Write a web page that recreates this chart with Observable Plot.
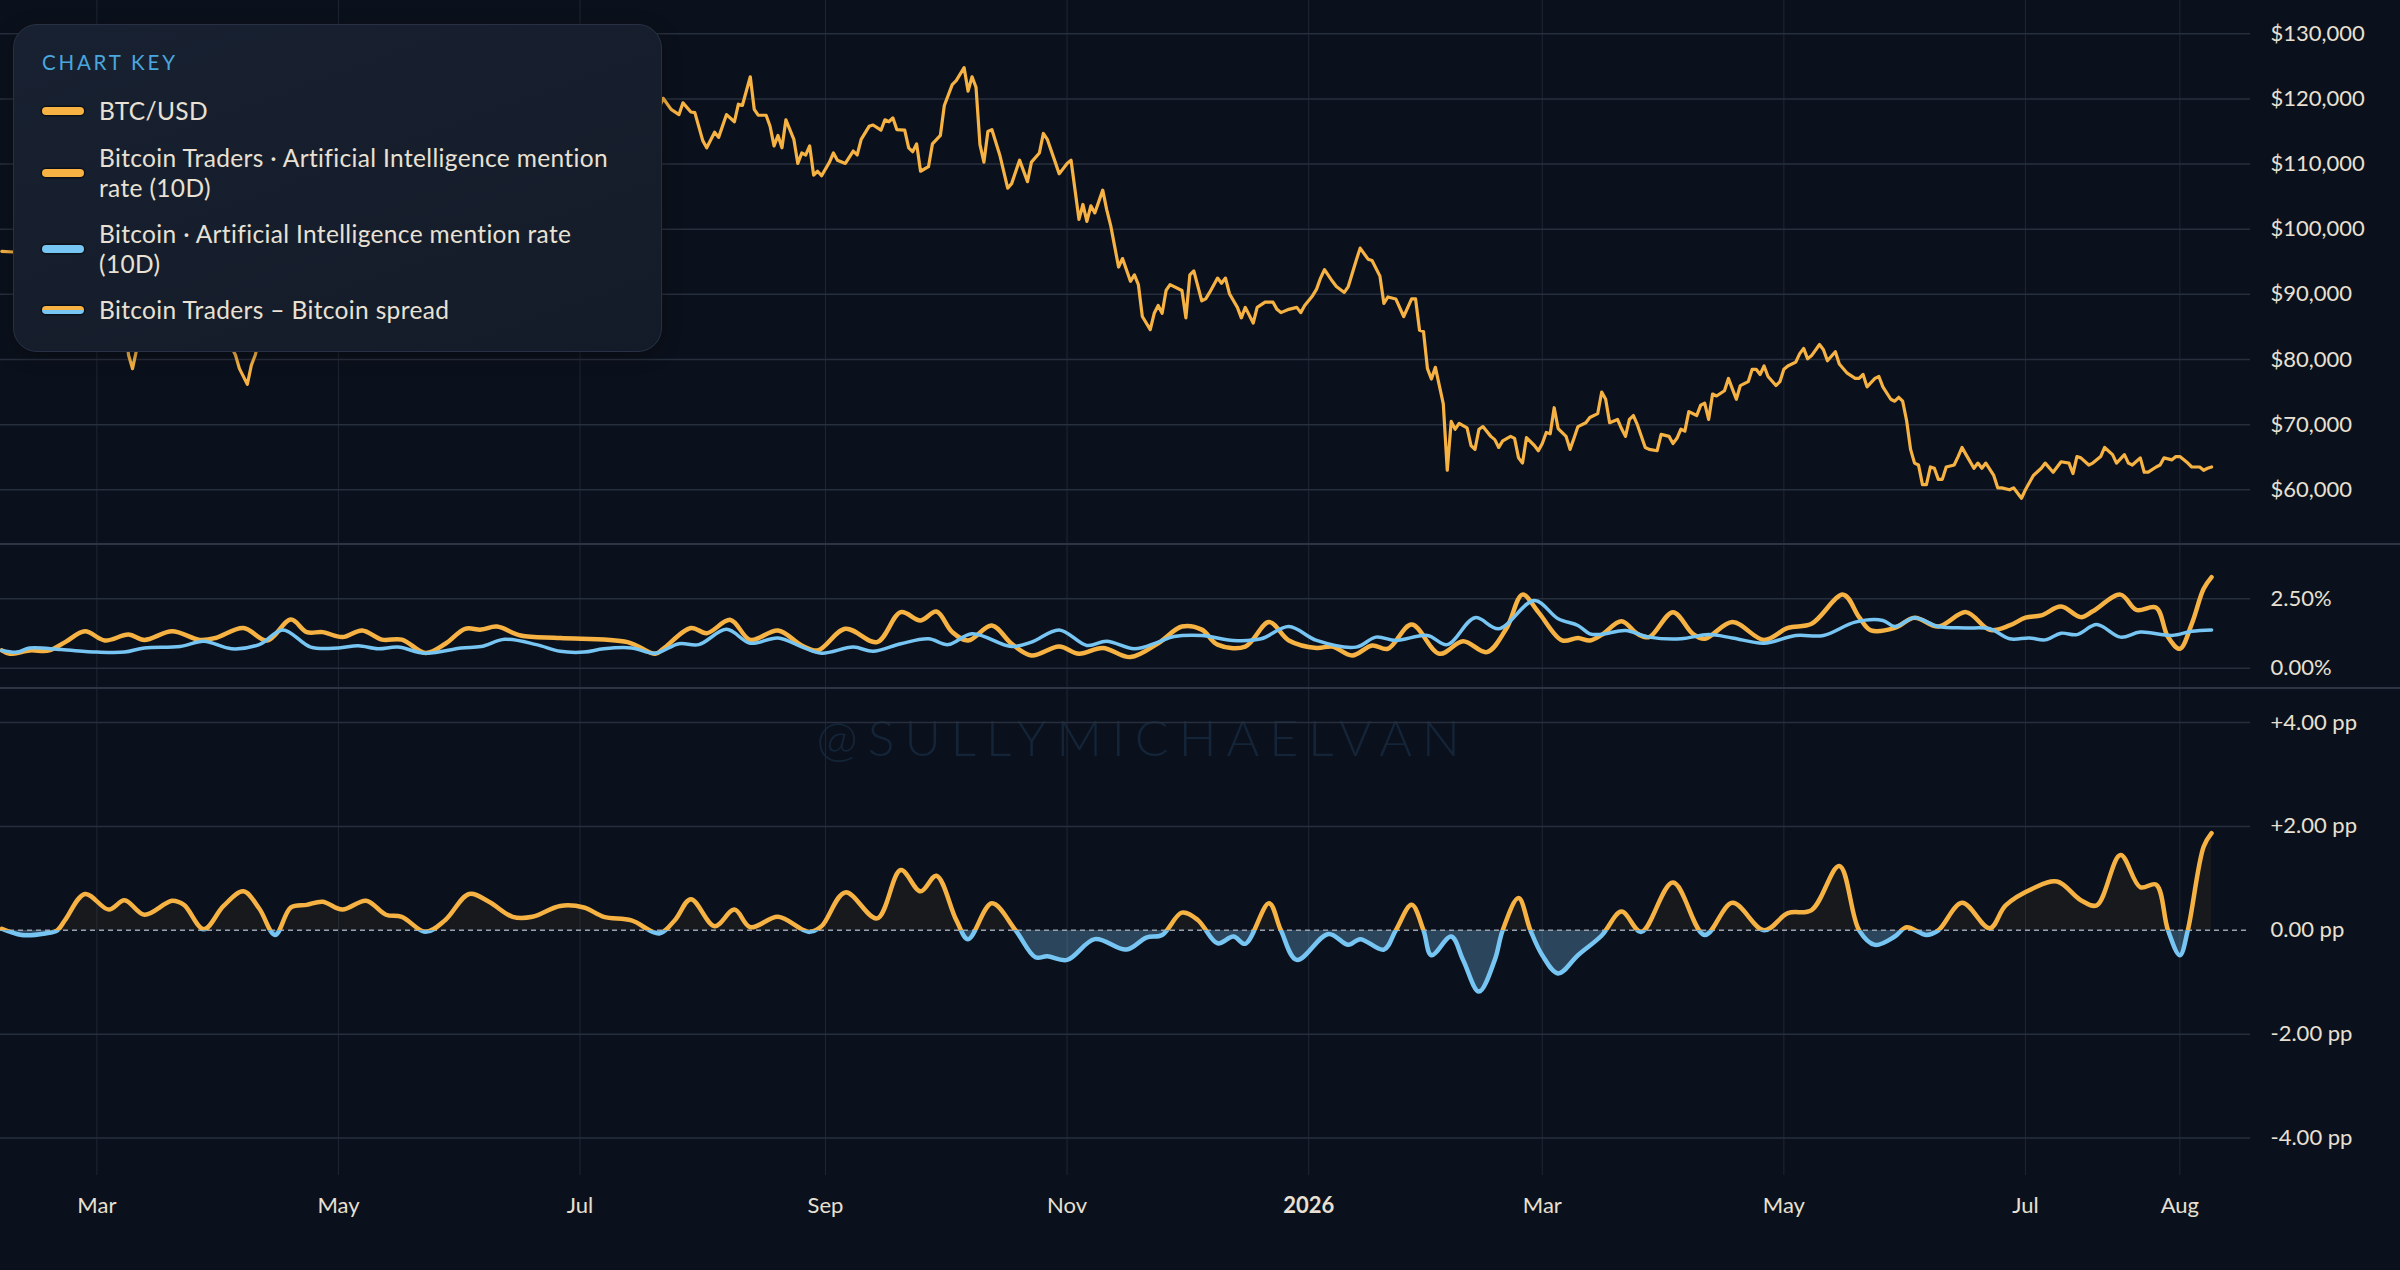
<!DOCTYPE html>
<html><head><meta charset="utf-8">
<script src="https://cdn.jsdelivr.net/npm/d3@7"></script>
<script src="https://cdn.jsdelivr.net/npm/@observablehq/plot@0.6"></script>
<style>
html,body{margin:0;padding:0;background:#0b111c;}
#root{position:relative;width:2400px;height:1270px;overflow:hidden;background:#0b111c;font-family:Lato,"Open Sans",sans-serif;}
.panel{position:absolute;left:0;z-index:2;}
.panel svg{display:block;}
.sep{position:absolute;left:0;width:2400px;height:2px;background:#2d3544;z-index:3;}
#watermark{position:absolute;left:1143px;top:737px;transform:translate(-50%,-50%);font-size:50px;font-weight:300;letter-spacing:10px;color:#142539;white-space:nowrap;z-index:1;}
#legend{position:absolute;left:13px;top:24px;width:647px;height:326px;border:1px solid #273143;border-radius:24px;background:linear-gradient(160deg,#182131 0%,#141b28 100%);z-index:5;box-shadow:0 4px 18px rgba(0,0,0,0.35);}
#legend .title{position:absolute;left:28px;top:25px;font-size:20.5px;line-height:24px;letter-spacing:2.8px;color:#4aa6dc;}
#legend .item{position:absolute;left:0;width:100%;}
#legend .sw{position:absolute;left:28px;width:42px;height:8px;border-radius:4px;box-shadow:0 0 0 1.5px rgba(0,0,0,0.45);}
#legend .txt{position:absolute;left:85px;font-size:24.5px;line-height:29.5px;letter-spacing:0.35px;color:#e8e1d4;white-space:nowrap;}
</style></head>
<body><div id="root">
<div id="watermark">@SULLYMICHAELVAN</div>
<div class="panel" id="p1" style="top:0px"></div>
<div class="panel" id="p2" style="top:544px"></div>
<div class="panel" id="p3" style="top:688px"></div>
<div class="sep" style="top:543px"></div>
<div class="sep" style="top:687px"></div>
<div id="legend"></div>
</div>
<script>
// ---------- DATA ----------
const tickDates = ["2025-03-01","2025-05-01","2025-07-01","2025-09-01","2025-11-01","2026-01-01","2026-03-01","2026-05-01","2026-07-01","2026-08-09"];
const tickLabels = ["Mar","May","Jul","Sep","Nov","2026","Mar","May","Jul","Aug"];
const btcTicks = [60000,70000,80000,90000,100000,110000,120000,130000];
const rateTicks = [0,2.5];
const spreadTicks = [-4,-2,0,2,4];

const btcUsd = [
["2025-02-05",96600],["2025-02-08",96500],["2025-02-11",95800],["2025-02-14",97500],["2025-02-17",95800],["2025-02-20",98300],["2025-02-23",96300],["2025-02-25",88700],["2025-02-27",84700],
["2025-03-01",86000],["2025-03-02",94200],["2025-03-04",87200],["2025-03-06",89900],["2025-03-08",86100],["2025-03-09",80700],["2025-03-10",78600],["2025-03-11",81400],["2025-03-13",81500],["2025-03-15",84100],["2025-03-18",82700],["2025-03-20",84200],["2025-03-23",86100],["2025-03-25",87500],["2025-03-28",84400],["2025-03-31",82500],
["2025-04-02",82500],["2025-04-03",83100],["2025-04-05",80700],["2025-04-06",78600],["2025-04-08",76200],["2025-04-09",79100],["2025-04-10",80700],["2025-04-12",85300],["2025-04-16",84000],["2025-04-20",85100],["2025-04-22",93400],["2025-04-25",94700],["2025-04-28",95000],
["2025-05-01",96500],["2025-05-04",94300],["2025-05-08",103200],["2025-05-11",104600],["2025-05-14",103500],["2025-05-17",103200],["2025-05-20",106800],["2025-05-22",111700],["2025-05-25",107800],["2025-05-28",107800],["2025-05-31",104600],
["2025-06-03",105400],["2025-06-05",101500],["2025-06-09",110300],["2025-06-12",105700],["2025-06-15",105500],["2025-06-18",104900],["2025-06-22",100900],["2025-06-25",107300],["2025-06-28",107300],
["2025-07-01",105700],["2025-07-03",109600],["2025-07-06",109200],["2025-07-09",111300],["2025-07-11",117500],["2025-07-14",119900],["2025-07-16",119000],["2025-07-18",117900],["2025-07-20",117300],["2025-07-22",120100],["2025-07-24",118400],["2025-07-26",117600],["2025-07-27",119400],["2025-07-29",118000],["2025-07-30",117900],
["2025-08-01",113600],["2025-08-02",112500],["2025-08-04",114900],["2025-08-05",114100],["2025-08-07",117600],["2025-08-09",116500],["2025-08-10",119200],["2025-08-11",119000],["2025-08-13",123400],["2025-08-14",118400],["2025-08-15",117500],["2025-08-17",117500],["2025-08-18",115800],["2025-08-19",112800],["2025-08-20",114400],["2025-08-21",112500],["2025-08-22",116800],["2025-08-24",113800],["2025-08-25",110100],["2025-08-26",111700],["2025-08-27",111400],["2025-08-28",112800],["2025-08-29",108300],["2025-08-30",108900],["2025-08-31",108200],
["2025-09-02",110300],["2025-09-03",111700],["2025-09-04",110600],["2025-09-06",110100],["2025-09-08",112000],["2025-09-09",111400],["2025-09-10",113800],["2025-09-12",115800],["2025-09-13",116000],["2025-09-15",115200],["2025-09-16",116800],["2025-09-17",116500],["2025-09-18",117100],["2025-09-19",115300],["2025-09-21",115200],["2025-09-22",112500],["2025-09-23",111900],["2025-09-24",113100],["2025-09-25",108900],["2025-09-27",109600],["2025-09-28",113100],["2025-09-30",114400],
["2025-10-01",119000],["2025-10-03",122200],["2025-10-04",122800],["2025-10-06",124800],["2025-10-07",121200],["2025-10-08",123400],["2025-10-09",121800],["2025-10-10",113000],["2025-10-11",110300],["2025-10-12",115000],["2025-10-13",115300],["2025-10-15",111400],["2025-10-17",106300],["2025-10-18",107000],["2025-10-20",110600],["2025-10-22",107300],["2025-10-23",110300],["2025-10-25",111700],["2025-10-26",114700],["2025-10-27",113800],["2025-10-29",110300],["2025-10-30",108500],
["2025-11-01",110100],["2025-11-02",110600],["2025-11-04",101500],["2025-11-05",103800],["2025-11-06",101200],["2025-11-07",103600],["2025-11-08",102500],["2025-11-10",106000],["2025-11-11",103000],["2025-11-12",100600],["2025-11-13",97400],["2025-11-14",94200],["2025-11-15",95500],["2025-11-17",92000],["2025-11-18",93000],["2025-11-19",91500],["2025-11-20",86600],["2025-11-22",84600],["2025-11-23",87100],["2025-11-24",88300],["2025-11-25",87100],["2025-11-26",90600],["2025-11-27",91500],["2025-11-30",90600],
["2025-12-01",86400],["2025-12-02",93000],["2025-12-03",93600],["2025-12-05",89000],["2025-12-06",89300],["2025-12-07",90300],["2025-12-09",92500],["2025-12-10",91700],["2025-12-11",92500],["2025-12-12",90100],["2025-12-14",88000],["2025-12-15",86400],["2025-12-16",88000],["2025-12-18",85600],["2025-12-19",88000],["2025-12-21",88800],["2025-12-23",88800],["2025-12-24",87700],["2025-12-25",87200],["2025-12-27",87700],["2025-12-29",88000],["2025-12-30",87200],["2025-12-31",88300],
["2026-01-02",89800],["2026-01-03",90800],["2026-01-04",92500],["2026-01-05",93800],["2026-01-07",92000],["2026-01-08",91200],["2026-01-10",90300],["2026-01-11",91200],["2026-01-13",95200],["2026-01-14",97100],["2026-01-16",95400],["2026-01-17",95200],["2026-01-19",92800],["2026-01-20",88600],["2026-01-21",89600],["2026-01-23",89300],["2026-01-25",86600],["2026-01-27",89300],["2026-01-28",89300],["2026-01-29",84500],["2026-01-30",84300],["2026-01-31",78600],
["2026-02-01",77000],["2026-02-02",78800],["2026-02-04",73200],["2026-02-05",63000],["2026-02-06",70500],["2026-02-07",69300],["2026-02-08",70200],["2026-02-10",69500],["2026-02-11",66800],["2026-02-12",66200],["2026-02-13",69300],["2026-02-14",69700],["2026-02-16",68200],["2026-02-17",67700],["2026-02-18",66500],["2026-02-19",67500],["2026-02-21",68200],["2026-02-22",67900],["2026-02-23",64900],["2026-02-24",64100],["2026-02-25",68000],["2026-02-27",66800],["2026-02-28",66000],
["2026-03-01",67100],["2026-03-02",68800],["2026-03-03",68600],["2026-03-04",72600],["2026-03-05",69400],["2026-03-07",68200],["2026-03-08",66200],["2026-03-09",67900],["2026-03-10",69700],["2026-03-12",70300],["2026-03-13",71100],["2026-03-15",71700],["2026-03-16",75000],["2026-03-17",73900],["2026-03-18",70300],["2026-03-20",70800],["2026-03-21",69400],["2026-03-22",68200],["2026-03-23",70800],["2026-03-24",71400],["2026-03-25",70000],["2026-03-27",66500],["2026-03-28",66200],["2026-03-30",66000],["2026-03-31",68500],
["2026-04-02",68200],["2026-04-03",67100],["2026-04-04",67900],["2026-04-05",69300],["2026-04-06",69000],["2026-04-07",72000],["2026-04-09",71400],["2026-04-10",73000],["2026-04-11",73300],["2026-04-12",70800],["2026-04-13",74700],["2026-04-14",74400],["2026-04-16",75200],["2026-04-17",77100],["2026-04-18",75500],["2026-04-19",73900],["2026-04-20",76000],["2026-04-22",76600],["2026-04-23",78500],["2026-04-24",78500],["2026-04-25",77700],["2026-04-26",79000],["2026-04-27",77400],["2026-04-29",76000],["2026-04-30",76600],
["2026-05-01",78500],["2026-05-02",79000],["2026-05-04",79600],["2026-05-05",80900],["2026-05-06",81700],["2026-05-07",80100],["2026-05-08",80600],["2026-05-10",82300],["2026-05-11",81500],["2026-05-12",79800],["2026-05-14",81200],["2026-05-15",79300],["2026-05-17",77900],["2026-05-19",77100],["2026-05-20",77100],["2026-05-21",77700],["2026-05-22",75800],["2026-05-24",77100],["2026-05-25",77400],["2026-05-26",75800],["2026-05-28",73900],["2026-05-29",73600],["2026-05-30",74200],["2026-05-31",73600],
["2026-06-01",70600],["2026-06-02",66200],["2026-06-03",64100],["2026-06-04",63800],["2026-06-05",60800],["2026-06-06",60800],["2026-06-07",63500],["2026-06-08",63300],["2026-06-09",61600],["2026-06-10",61600],["2026-06-11",63500],["2026-06-13",63800],["2026-06-14",65100],["2026-06-15",66500],["2026-06-16",65400],["2026-06-18",63300],["2026-06-19",64100],["2026-06-20",63300],["2026-06-21",64100],["2026-06-23",62200],["2026-06-24",60300],["2026-06-25",60300],["2026-06-27",60000],["2026-06-28",60300],["2026-06-29",59500],["2026-06-30",58700],
["2026-07-01",60000],["2026-07-03",62200],["2026-07-05",63300],["2026-07-06",64100],["2026-07-08",62700],["2026-07-09",63500],["2026-07-10",64300],["2026-07-12",64100],["2026-07-13",62500],["2026-07-14",65100],["2026-07-15",64900],["2026-07-17",63800],["2026-07-18",64100],["2026-07-20",65100],["2026-07-21",66500],["2026-07-23",65400],["2026-07-24",64100],["2026-07-26",65400],["2026-07-27",64100],["2026-07-28",63800],["2026-07-30",64900],["2026-07-31",62700],
["2026-08-01",62700],["2026-08-03",63500],["2026-08-04",63800],["2026-08-05",64900],["2026-08-07",64600],["2026-08-08",65100],["2026-08-09",65100],["2026-08-11",64100],["2026-08-12",63500],["2026-08-14",63500],["2026-08-15",63000],["2026-08-16",63300],["2026-08-17",63500]
];

// Bitcoin Traders · AI mention rate (10D), %
const tradersRate = [
["2025-02-05",0.64],["2025-02-07",0.52],["2025-02-12",0.64],["2025-02-17",0.64],["2025-02-21",0.94],["2025-02-26",1.33],["2025-03-03",1.00],["2025-03-09",1.21],["2025-03-13",1.02],["2025-03-20",1.33],["2025-03-27",1.02],["2025-03-31",1.09],
["2025-04-07",1.45],["2025-04-13",1.00],["2025-04-19",1.75],["2025-04-23",1.30],["2025-04-27",1.30],["2025-05-02",1.12],["2025-05-07",1.36],["2025-05-12",1.03],["2025-05-17",1.03],["2025-05-23",0.55],["2025-05-28",0.88],
["2025-06-02",1.42],["2025-06-06",1.39],["2025-06-10",1.50],["2025-06-16",1.18],["2025-06-26",1.09],["2025-07-13",0.94],["2025-07-20",0.52],["2025-07-22",0.70],["2025-07-29",1.45],["2025-08-02",1.26],["2025-08-08",1.74],["2025-08-13",1.02],["2025-08-20",1.36],["2025-08-26",0.82],["2025-08-30",0.64],
["2025-09-06",1.42],["2025-09-14",0.94],["2025-09-20",2.02],["2025-09-25",1.72],["2025-09-29",2.04],["2025-10-03",1.30],["2025-10-07",1.00],["2025-10-13",1.54],["2025-10-18",0.88],["2025-10-23",0.46],["2025-10-30",0.78],
["2025-11-04",0.52],["2025-11-10",0.73],["2025-11-17",0.40],["2025-11-24",0.90],["2025-11-30",1.50],["2025-12-05",1.39],["2025-12-09",0.85],["2025-12-16",0.78],["2025-12-22",1.66],["2025-12-27",1.00],
["2026-01-03",0.73],["2026-01-07",0.78],["2026-01-12",0.46],["2026-01-17",0.82],["2026-01-21",0.70],["2026-01-27",1.57],["2026-02-03",0.52],["2026-02-09",0.97],["2026-02-15",0.58],["2026-02-20",1.45],["2026-02-24",2.65],["2026-02-28",2.02],
["2026-03-06",1.00],["2026-03-10",1.09],["2026-03-13",1.00],["2026-03-16",1.20],["2026-03-21",1.69],["2026-03-25",1.24],["2026-03-28",1.12],["2026-04-03",2.02],["2026-04-08",1.24],["2026-04-11",1.06],["2026-04-18",1.66],["2026-04-26",1.02],
["2026-05-02",1.45],["2026-05-08",1.60],["2026-05-16",2.65],["2026-05-20",1.84],["2026-05-23",1.36],["2026-05-29",1.45],["2026-06-03",1.82],["2026-06-09",1.50],["2026-06-16",2.02],["2026-06-22",1.38],["2026-06-27",1.54],
["2026-07-01",1.82],["2026-07-05",1.90],["2026-07-10",2.22],["2026-07-15",1.84],["2026-07-18",2.05],["2026-07-25",2.65],["2026-07-29",2.10],["2026-08-03",2.18],["2026-08-06",1.12],["2026-08-09",0.70],["2026-08-12",1.60],["2026-08-15",2.86],["2026-08-17",3.28]
];

// Bitcoin · AI mention rate (10D), %
const bitcoinRate = [
["2025-02-05",0.64],["2025-02-09",0.58],["2025-02-12",0.73],["2025-02-20",0.67],["2025-03-01",0.58],["2025-03-08",0.58],["2025-03-13",0.73],["2025-03-22",0.78],["2025-03-28",0.97],["2025-04-04",0.70],["2025-04-11",0.85],["2025-04-17",1.38],["2025-04-24",0.76],
["2025-05-01",0.73],["2025-05-06",0.81],["2025-05-11",0.70],["2025-05-16",0.76],["2025-05-23",0.54],["2025-06-01",0.73],["2025-06-06",0.78],["2025-06-12",1.04],["2025-06-20",0.85],["2025-06-26",0.61],["2025-07-02",0.58],["2025-07-07",0.70],["2025-07-14",0.73],["2025-07-20",0.54],["2025-07-26",0.88],["2025-07-31",0.85],
["2025-08-07",1.40],["2025-08-13",0.90],["2025-08-20",1.09],["2025-08-26",0.77],["2025-08-31",0.54],["2025-09-08",0.76],["2025-09-13",0.61],["2025-09-20",0.88],["2025-09-27",1.06],["2025-10-02",0.85],["2025-10-08",1.24],["2025-10-18",0.78],["2025-10-23",0.94],["2025-10-30",1.38],
["2025-11-06",0.82],["2025-11-11",0.97],["2025-11-18",0.70],["2025-11-24",0.94],["2025-11-28",1.14],["2025-12-05",1.18],["2025-12-13",1.00],["2025-12-20",1.06],["2025-12-27",1.50],["2026-01-03",1.00],["2026-01-13",0.76],["2026-01-18",1.12],["2026-01-23",1.00],["2026-01-31",1.18],
["2026-02-05",0.85],["2026-02-12",1.82],["2026-02-18",1.42],["2026-02-27",2.44],["2026-03-05",1.78],["2026-03-10",1.54],["2026-03-13",1.24],["2026-03-16",1.22],["2026-03-22",1.36],["2026-03-28",1.12],["2026-04-05",1.06],["2026-04-12",1.21],["2026-04-18",1.09],["2026-04-26",0.90],
["2026-05-04",1.18],["2026-05-11",1.18],["2026-05-19",1.66],["2026-05-26",1.72],["2026-05-29",1.50],["2026-06-03",1.82],["2026-06-09",1.50],["2026-06-16",1.45],["2026-06-22",1.42],["2026-06-27",1.06],["2026-07-02",1.09],["2026-07-06",1.02],["2026-07-10",1.26],["2026-07-14",1.21],["2026-07-19",1.57],["2026-07-25",1.12],["2026-07-30",1.30],
["2026-08-07",1.18],["2026-08-12",1.33],["2026-08-17",1.38]
];

// Bitcoin Traders – Bitcoin spread, pp
const spreadPP = [
["2025-02-05",0.03],["2025-02-10",-0.09],["2025-02-16",-0.06],["2025-02-19",0.00],["2025-02-21",0.20],["2025-02-26",0.70],["2025-03-04",0.40],["2025-03-08",0.58],["2025-03-13",0.30],["2025-03-20",0.57],["2025-03-23",0.49],["2025-03-28",0.02],
["2025-04-02",0.47],["2025-04-07",0.75],["2025-04-11",0.42],["2025-04-15",-0.09],["2025-04-19",0.44],["2025-04-23",0.49],["2025-04-27",0.55],["2025-05-02",0.40],["2025-05-08",0.57],["2025-05-13",0.30],["2025-05-17",0.26],["2025-05-23",-0.03],["2025-05-28",0.20],
["2025-06-03",0.70],["2025-06-08",0.55],["2025-06-14",0.26],["2025-06-19",0.26],["2025-06-26",0.47],["2025-07-02",0.44],["2025-07-07",0.26],["2025-07-14",0.19],["2025-07-21",-0.06],["2025-07-25",0.20],["2025-07-29",0.60],
["2025-08-04",0.08],["2025-08-09",0.40],["2025-08-13",0.06],["2025-08-20",0.26],["2025-08-26",0.02],["2025-08-28",-0.03],["2025-08-31",0.08],["2025-09-06",0.73],["2025-09-14",0.23],["2025-09-20",1.16],["2025-09-25",0.75],["2025-09-29",1.05],
["2025-10-04",0.20],["2025-10-07",-0.17],["2025-10-13",0.52],["2025-10-19",0.00],["2025-10-24",-0.52],["2025-10-27",-0.50],["2025-11-01",-0.57],["2025-11-08",-0.17],["2025-11-16",-0.37],["2025-11-21",-0.14],["2025-11-25",-0.09],["2025-11-30",0.34],
["2025-12-04",0.20],["2025-12-09",-0.25],["2025-12-13",-0.12],["2025-12-16",-0.26],["2025-12-22",0.52],["2025-12-25",0.00],["2025-12-29",-0.57],["2026-01-06",-0.07],["2026-01-11",-0.28],["2026-01-14",-0.17],["2026-01-20",-0.37],["2026-01-23",0.00],["2026-01-27",0.49],["2026-01-30",0.00],
["2026-02-01",-0.48],["2026-02-06",-0.12],["2026-02-09",-0.57],["2026-02-13",-1.18],["2026-02-17",-0.57],["2026-02-19",0.00],["2026-02-23",0.62],["2026-02-26",0.00],["2026-03-01",-0.48],["2026-03-05",-0.83],["2026-03-10",-0.48],["2026-03-16",-0.10],["2026-03-21",0.36],["2026-03-26",-0.03],
["2026-04-03",0.92],["2026-04-11",-0.09],["2026-04-18",0.53],["2026-04-26",0.00],["2026-05-02",0.33],["2026-05-08",0.39],["2026-05-15",1.24],["2026-05-20",0.00],["2026-05-24",-0.28],["2026-05-29",-0.12],
["2026-06-01",0.06],["2026-06-06",-0.09],["2026-06-09",0.00],["2026-06-15",0.53],["2026-06-22",0.04],["2026-06-26",0.48],["2026-07-03",0.81],["2026-07-09",0.94],["2026-07-15",0.58],["2026-07-19",0.48],["2026-07-25",1.45],["2026-07-30",0.83],
["2026-08-03",0.88],["2026-08-06",0.00],["2026-08-09",-0.48],["2026-08-11",0.00],["2026-08-15",1.61],["2026-08-17",1.87]
];

const legendItems = [
  {lines:["BTC/USD"], colors:["#f6b243"]},
  {lines:["Bitcoin Traders · Artificial Intelligence mention","rate (10D)"], colors:["#f6b243"]},
  {lines:["Bitcoin · Artificial Intelligence mention rate","(10D)"], colors:["#77c5f3"]},
  {lines:["Bitcoin Traders – Bitcoin spread"], colors:["#f6b243","#77c5f3"]}
];

// ---------- RENDER ----------
const ORANGE = "#f6b243", BLUE = "#77c5f3";
const TEXT = "#e8e0d2";
const parse = s => new Date(s + "T00:00:00Z");
const rows = arr => arr.map(([d, v]) => ({date: parse(d), value: v}));
const btc = rows(btcUsd), traders = rows(tradersRate), bitcoin = rows(bitcoinRate), spread = rows(spreadPP);
const ticks = tickDates.map(parse);
const labelOf = new Map(ticks.map((t, i) => [+t, tickLabels[i]]));
const xDomain = [new Date("2025-02-04T16:00:00Z"), new Date("2026-08-26T20:00:00Z")];
const W = 2400, MR = 150;
const style = {background: "transparent", color: TEXT, fontFamily: "Lato, 'Open Sans', sans-serif", fontSize: "22px", overflow: "visible"};
const gridV = () => Plot.gridX(ticks, {stroke: "#1f2634", strokeOpacity: 1, strokeWidth: 1});
const gridH = (t) => Plot.gridY(t, {stroke: "#272f3d", strokeOpacity: 1, strokeWidth: 1.5});
const axR = (t, f) => Plot.axisY(t, {anchor: "right", tickSize: 0, tickPadding: 20, tickFormat: f, fontSize: 22, label: null, fill: TEXT});

const p1 = Plot.plot({
  width: W, height: 543, marginLeft: 0, marginRight: MR, marginTop: 0, marginBottom: 0, style,
  x: {type: "utc", domain: xDomain, axis: null},
  y: {domain: [51756, 135112], axis: null},
  marks: [
    gridV(), gridH(btcTicks),
    axR(btcTicks, d => "$" + d3.format(",")(d)),
    Plot.line(btc, {x: "date", y: "value", stroke: ORANGE, strokeWidth: 3.2, strokeLinejoin: "round"})
  ]
});
document.getElementById("p1").appendChild(p1);

const p2 = Plot.plot({
  width: W, height: 144, marginLeft: 0, marginRight: MR, marginTop: 0, marginBottom: 0, style,
  x: {type: "utc", domain: xDomain, axis: null},
  y: {domain: [-0.731, 4.456], axis: null},
  marks: [
    gridV(), gridH(rateTicks),
    axR(rateTicks, d => d.toFixed(2) + "%"),
    Plot.line(traders, {x: "date", y: "value", stroke: ORANGE, strokeWidth: 4.5, curve: "catmull-rom"}),
    Plot.line(bitcoin, {x: "date", y: "value", stroke: BLUE, strokeWidth: 3.5, curve: "catmull-rom"})
  ]
});
document.getElementById("p2").appendChild(p2);

const ppFmt = d => (d > 0 ? "+" : "") + d.toFixed(2) + " pp";
const p3 = Plot.plot({
  width: W, height: 582, marginLeft: 0, marginRight: MR, marginTop: 0, marginBottom: 95, style,
  x: {type: "utc", domain: xDomain, axis: null},
  y: {domain: [-4.721, 4.656], axis: null},
  marks: [
    gridV(), gridH([-4, -2, 2, 4]),
    Plot.areaY(spread, {x: "date", y1: 0, y2: "value", fill: ORANGE, fillOpacity: 0.05, curve: "catmull-rom"}),
    Plot.areaY(spread, {x: "date", y1: 0, y2: "value", fill: BLUE, fillOpacity: 0.3, curve: "catmull-rom"}),
    Plot.ruleY([0], {stroke: "#9aa2ae", strokeWidth: 1.5, strokeDasharray: "5,4"}),
    Plot.line(spread, {x: "date", y: "value", stroke: ORANGE, strokeWidth: 4.5, curve: "catmull-rom"}),
    Plot.line(spread, {x: "date", y: "value", stroke: BLUE, strokeWidth: 4.5, curve: "catmull-rom"}),
    axR(spreadTicks, ppFmt),
    Plot.axisX(ticks, {anchor: "bottom", tickSize: 0, tickPadding: 22, tickFormat: d => labelOf.get(+d), fontSize: 22, label: null, fill: TEXT})
  ]
});
document.getElementById("p3").appendChild(p3);

// sign clipping for the spread panel
(function () {
  const y0 = p3.scale("y").apply(0);
  const svg = d3.select(p3);
  const defs = svg.insert("defs", ":first-child");
  defs.append("clipPath").attr("id", "clipPos").append("rect").attr("x", -10).attr("y", -10).attr("width", W + 20).attr("height", y0 + 10);
  defs.append("clipPath").attr("id", "clipNeg").append("rect").attr("x", -10).attr("y", y0).attr("width", W + 20).attr("height", 600);
  const areas = svg.selectAll('g[aria-label="area"]').nodes();
  const lines = svg.selectAll('g[aria-label="line"]').nodes();
  if (areas[0]) areas[0].setAttribute("clip-path", "url(#clipPos)");
  if (areas[1]) areas[1].setAttribute("clip-path", "url(#clipNeg)");
  if (lines[0]) lines[0].setAttribute("clip-path", "url(#clipPos)");
  if (lines[1]) lines[1].setAttribute("clip-path", "url(#clipNeg)");
  svg.selectAll("text").filter(function () { return this.textContent === "2026"; }).attr("font-weight", "bold");
})();

// legend
(function () {
  const lg = d3.select("#legend");
  lg.append("div").attr("class", "title").text("CHART KEY");
  const tops = [71, 118, 194, 270];
  legendItems.forEach((it, i) => {
    const top = tops[i];
    const h = it.lines.length * 29.5;
    const sw = lg.append("div").attr("class", "sw").style("top", (top + h / 2 - 4) + "px");
    if (it.colors.length === 1) sw.style("background", it.colors[0]);
    else sw.style("background", `linear-gradient(${it.colors[0]} 50%, ${it.colors[1]} 50%)`);
    const tx = lg.append("div").attr("class", "txt").style("top", top + "px");
    tx.html(it.lines.map(l => l.replace(/&/g, "&amp;")).join("<br>"));
  });
})();
</script>
</body></html>
